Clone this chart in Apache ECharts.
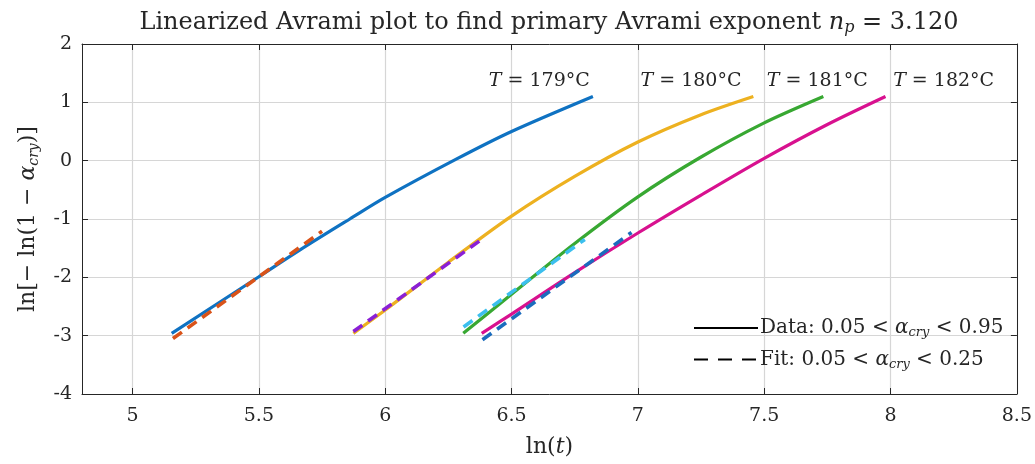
<!DOCTYPE html>
<html>
<head>
<meta charset="utf-8">
<script src="https://cdn.jsdelivr.net/npm/echarts@6/dist/echarts.min.js"></script>
<style>
html,body{margin:0;padding:0;background:#fff;}
#chart{width:1035px;height:464px;}
</style>
</head>
<body>
<div id="chart"></div>
<script>
// ---- Data ----
const temps = ['179', '180', '181', '182'];

const lnt179 = [5.155, 5.5, 5.663, 5.86, 6.0, 6.283, 6.5, 6.822];
const y179   = [-2.96, -1.99, -1.53, -1.0, -0.63, 0.03, 0.50, 1.10];

const lnt180 = [5.874, 6.0, 6.25, 6.5, 6.75, 7.0, 7.245, 7.457];
const y180   = [-2.96, -2.56, -1.74, -0.95, -0.27, 0.32, 0.78, 1.10];

const lnt181 = [6.309, 6.5, 6.75, 7.0, 7.245, 7.496, 7.734];
const y181   = [-2.96, -2.29, -1.42, -0.62, 0.05, 0.64, 1.10];

const lnt182 = [6.382, 6.5, 6.75, 7.0, 7.25, 7.5, 7.75, 7.98];
const y182   = [-2.96, -2.63, -1.92, -1.24, -0.59, 0.04, 0.62, 1.10];

// Fitted lines (start / end of the fit range)
const fitX179 = [5.16, 5.75];   const fitY179 = [-3.05, -1.21];
const fitX180 = [5.874, 6.385]; const fitY180 = [-2.93, -1.34];
const fitX181 = [6.31, 6.79];   const fitY181 = [-2.85, -1.35];
const fitX182 = [6.385, 6.975]; const fitY182 = [-3.07, -1.23];

// Temperature label anchors (data coordinates)
const labelX = [6.61, 7.21, 7.71, 8.21];
const labelY = 1.365;

const xTicks = [5, 5.5, 6, 6.5, 7, 7.5, 8, 8.5];
const titleMain = 'Linearized Avrami plot to find primary Avrami exponent ';
const npValue = '3.120';

// ---- Build ----
const zip = (xs, ys) => xs.map((x, i) => [x, ys[i]]);
const dataColors = ['#0f72c2', '#edb120', '#38a832', '#d8118f'];
const fitColors  = ['#d95319', '#8a1fd6', '#3cbfee', '#1b6cbd'];
const dataSets = [zip(lnt179, y179), zip(lnt180, y180), zip(lnt181, y181), zip(lnt182, y182)];
const fitSets  = [zip(fitX179, fitY179), zip(fitX180, fitY180), zip(fitX181, fitY181), zip(fitX182, fitY182)];

const FONT = 'DejaVu Serif';
const TXT = '#262626';
const series = [];
dataSets.forEach((d, i) => {
  series.push({
    type: 'line', data: d, showSymbol: false, symbol: 'none', smooth: 0.3,
    lineStyle: { color: dataColors[i], width: 3.2 }, itemStyle: { color: dataColors[i] },
    silent: true, animation: false, z: 2
  });
});
fitSets.forEach((d, i) => {
  series.push({
    type: 'line', data: d, showSymbol: false, symbol: 'none',
    lineStyle: { color: fitColors[i], width: 3.6, type: [11, 7] }, itemStyle: { color: fitColors[i] },
    silent: true, animation: false, z: 3
  });
});
// Temperature labels
series.push({
  type: 'scatter', symbolSize: 0, silent: true, animation: false,
  itemStyle: { opacity: 1 },
  data: labelX.map((x, i) => ({ value: [x, labelY], t: temps[i] })),
  label: {
    show: true, position: 'inside',
    formatter: p => '{i|T} = ' + p.data.t + '°C',
    fontFamily: FONT, fontSize: 19, color: TXT,
    rich: { i: { fontFamily: FONT, fontStyle: 'italic', fontSize: 19, color: TXT } }
  }
});
// Legend dummies
series.push({ name: 'data', type: 'line', data: [], symbol: 'none', lineStyle: { color: '#000', width: 1 }, itemStyle: { color: '#000' } });
series.push({ name: 'fit', type: 'line', data: [], symbol: 'none', lineStyle: { color: '#000', width: 1, type: [14, 10] }, itemStyle: { color: '#000' } });

const axisLineStyle = { show: true, onZero: false, lineStyle: { color: TXT, width: 1 } };
const tickStyle = (vals) => ({ show: true, inside: true, length: 6, lineStyle: { color: TXT }, customValues: vals });

const chart = echarts.init(document.getElementById('chart'), null, { renderer: 'canvas' });
chart.setOption({
  animation: false,
  backgroundColor: '#fff',
  title: {
    text: titleMain + '{i|n}{s|p} = ' + npValue,
    left: 544, textAlign: 'center', top: 5,
    textStyle: {
      fontFamily: FONT, fontWeight: 'normal', fontSize: 24, color: TXT,
      rich: {
        i: { fontFamily: FONT, fontStyle: 'italic', fontSize: 24, color: TXT },
        s: { fontFamily: FONT, fontStyle: 'italic', fontSize: 16, color: TXT, padding: [10, 0, 0, 0] }
      }
    }
  },
  legend: {
    orient: 'vertical', left: 693, top: 318, itemGap: 10, padding: 0,
    itemWidth: 64, itemHeight: 14,
    itemStyle: { opacity: 0, borderWidth: 0 },
    data: ['data', 'fit'],
    formatter: n => n === 'data'
      ? 'Data: 0.05 < {i|α}{s|cry} < 0.95'
      : 'Fit: 0.05 < {i|α}{s|cry} < 0.25',
    textStyle: {
      fontFamily: FONT, fontSize: 20, color: TXT, padding: [0, 0, 0, -3],
      rich: {
        i: { fontFamily: FONT, fontStyle: 'italic', fontSize: 20, color: TXT },
        s: { fontFamily: FONT, fontStyle: 'italic', fontSize: 13, color: TXT, padding: [10, 0, 0, 0] }
      }
    }
  },
  grid: { left: 82, right: 18, top: 44, bottom: 70, containLabel: false },
  xAxis: [
    {
      type: 'value', min: 4.8, max: 8.5, position: 'bottom',
      axisLine: axisLineStyle, axisTick: tickStyle(xTicks),
      name: '{n|ln(}{i|t}{n|)}', nameLocation: 'middle', nameGap: 42,
      nameTextStyle: { fontFamily: FONT, fontSize: 22, color: TXT,
        rich: { n: { fontFamily: FONT, fontSize: 22, color: TXT }, i: { fontFamily: FONT, fontStyle: 'italic', fontSize: 22, color: TXT } } },
      axisLabel: { show: true, customValues: xTicks, margin: 13, fontFamily: FONT, fontSize: 19, color: TXT, formatter: v => String(v) },
      splitLine: { show: true, lineStyle: { color: '#d6d6d6', width: 1.2 } }
    },
    {
      type: 'value', min: 4.8, max: 8.5, position: 'top',
      axisLine: axisLineStyle, axisTick: tickStyle(xTicks),
      axisLabel: { show: false }, splitLine: { show: false }
    }
  ],
  yAxis: [
    {
      type: 'value', min: -4, max: 2, interval: 1, position: 'left',
      axisLine: axisLineStyle, axisTick: { show: true, inside: true, length: 6, lineStyle: { color: TXT } },
      name: 'ln[− ln(1 − {i|α}{s|cry})]', nameLocation: 'middle', nameGap: 41, nameRotate: 90,
      nameTextStyle: { fontFamily: FONT, fontSize: 22, color: TXT,
        rich: { i: { fontFamily: FONT, fontStyle: 'italic', fontSize: 22, color: TXT },
                s: { fontFamily: FONT, fontStyle: 'italic', fontSize: 14, color: TXT, padding: [12, 0, 0, 0] } } },
      axisLabel: { margin: 10, fontFamily: FONT, fontSize: 19, color: TXT },
      splitLine: { show: true, lineStyle: { color: '#d6d6d6', width: 1.2 } }
    },
    {
      type: 'value', min: -4, max: 2, interval: 1, position: 'right',
      axisLine: axisLineStyle, axisTick: { show: true, inside: true, length: 6, lineStyle: { color: TXT } },
      axisLabel: { show: false }, splitLine: { show: false }
    }
  ],
  series: series
});
</script>
</body>
</html>
